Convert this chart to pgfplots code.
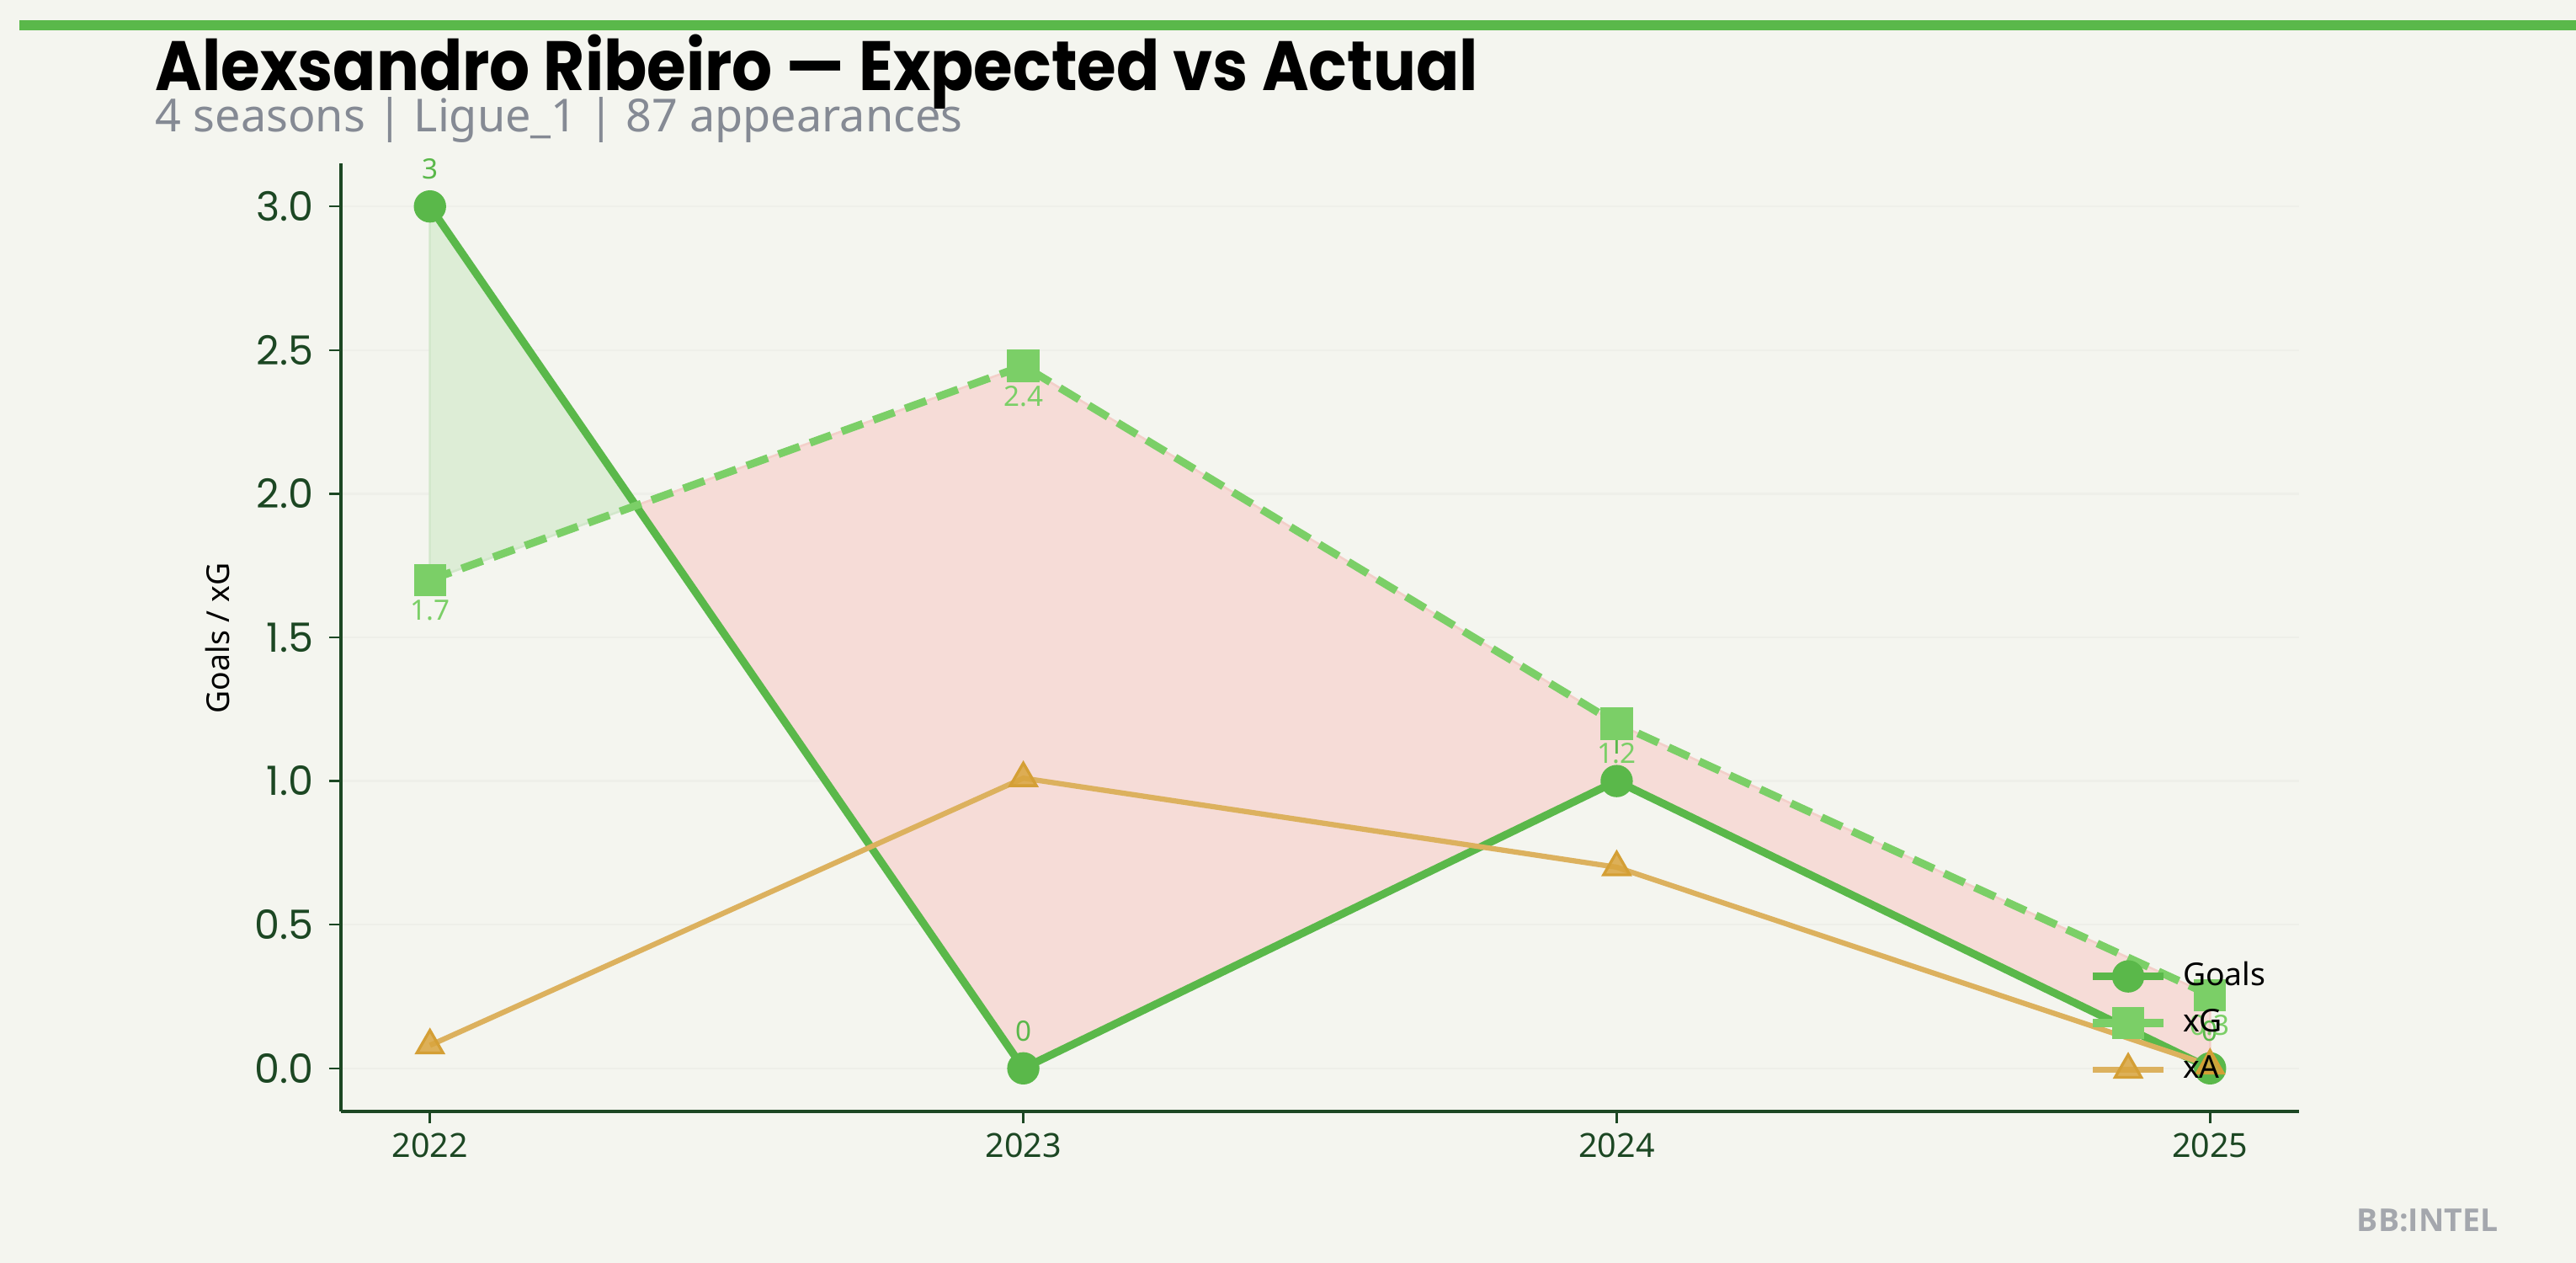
\documentclass[border=0pt]{standalone}
\usepackage{fontspec}
\setmainfont{Noto Sans}
\newfontfamily\titlefont[FakeStretch=0.91]{Poppins}
\newfontfamily\tickfont{Poppins}
\newfontfamily\wmfont{Open Sans}
\usepackage{pgfplots}
\pgfplotsset{compat=1.18}
\definecolor{bg}{HTML}{F4F5EF}
\definecolor{goalsc}{HTML}{5AB84A}
\definecolor{xgc}{HTML}{7BCF67}
\definecolor{xaline}{HTML}{DCB15E}
\definecolor{xamark}{HTML}{D9A53E}
\definecolor{xaedge}{HTML}{D49F35}
\definecolor{fillg}{HTML}{DDEDD6}
\definecolor{fillr}{HTML}{F6DCD7}
\definecolor{fillgedge}{HTML}{D2E7CB}
\definecolor{fillredge}{HTML}{F3CFC9}
\definecolor{spine}{HTML}{1C4723}
\definecolor{gridc}{HTML}{EEEFE9}
\definecolor{subc}{HTML}{858A94}
\definecolor{wmc}{HTML}{A4A7AD}
\pgfplotsset{
  goalsleg/.style={legend image code/.code={
    \draw[##1, line width=2.2bp] (0bp,0bp) -- (20bp,0bp);
    \draw[##1] plot coordinates {(10bp,0bp)};}},
  xgleg/.style={legend image code/.code={
    \draw[##1, solid, line width=2.2bp] (0bp,0bp) -- (20bp,0bp);
    \draw[##1, solid] plot coordinates {(10bp,0bp)};}},
  xaleg/.style={legend image code/.code={
    \draw[##1, line width=1.5bp] (0bp,0bp) -- (20bp,0bp);
    \draw[##1] plot coordinates {(10bp,0bp)};}},
}
\begin{document}
\begin{tikzpicture}
\fill[bg] (0,0) rectangle (734.4bp,360bp);
\fill[goalsc] (5.52bp,351.36bp) rectangle (734.4bp,354.24bp);
\node[anchor=base west, inner sep=0pt, text=black] at (44.16bp,334.3bp)
  {\titlefont\bfseries\fontsize{20}{24}\selectfont Alexsandro Ribeiro — Expected vs Actual};
\node[anchor=base west, inner sep=0pt, text=subc] at (44.16bp,322.32bp)
  {\fontsize{13}{15}\selectfont 4 seasons | Ligue\_1 | 87 appearances};
\node[anchor=base east, inner sep=0pt, text=wmc] at (712.32bp,9.12bp)
  {\wmfont\bfseries\fontsize{9}{11}\selectfont BB:INTEL};
\node[rotate=90, inner sep=0pt, text=black] at (61.92bp,178.08bp)
  {\fontsize{9}{11}\selectfont Goals / xG};
\begin{axis}[
  at={(97.2bp,43.2bp)}, anchor=south west,
  scale only axis, width=558.24bp, height=270.24bp,
  xmin=2021.85, xmax=2025.15, ymin=-0.15, ymax=3.15,
  axis lines*=left,
  axis line style={-, color=spine, line width=0.9bp},
  xtick={2022,2023,2024,2025}, xticklabels={2022,2023,2024,2025},
  ytick={0,0.5,1,1.5,2,2.5,3},
  yticklabel={\pgfmathprintnumber[fixed,fixed zerofill,precision=1]{\tick}},
  /pgf/number format/assume math mode=true,
  tick align=outside, major tick length=3.4bp,
  tick style={color=spine, line width=0.6bp},
  xtick pos=bottom, ytick pos=left,
  yticklabel style={font=\tickfont\fontsize{11.5}{13}\selectfont, text=spine, inner sep=0pt, xshift=-4.3bp},
  xticklabel style={font=\fontsize{9.5}{11}\selectfont, text=spine, inner sep=0pt, yshift=-2.5bp},
  ymajorgrids, grid style={color=gridc, line width=0.6bp},
  clip=false,
  legend style={at={(0.8925,0.0932)}, anchor=west, draw=none, fill=none,
    inner sep=0pt, font=\fontsize{9}{11}\selectfont, text=black,
    nodes={inner sep=0pt, text height=7bp, text depth=2bp},
    row sep=4.3bp, column sep=4.5bp},
  legend cell align=left,
]
% shaded areas between Goals and xG (crossing at x=2022.347, y=1.959)
\addplot[forget plot, fill=fillg, draw=fillgedge, line width=0.6bp]
  coordinates {(2022,3) (2022.347,1.959) (2022,1.70)} -- cycle;
\addplot[forget plot, fill=fillr, draw=fillredge, line width=0.6bp]
  coordinates {(2022.347,1.959) (2023,2.445) (2024,1.20) (2025,0.255) (2025,0) (2024,1) (2023,0)} -- cycle;

\addplot[goalsleg, color=goalsc, line width=2.2bp, mark=*, mark size=3.5bp,
  mark options={fill=goalsc, draw=goalsc},
  nodes near coords, point meta=explicit symbolic,
  every node near coord/.append style={font=\fontsize{8}{9}\selectfont, text=goalsc, anchor=center, yshift=10.6bp}]
  coordinates {(2022,3) [3] (2023,0) [0] (2024,1) [1] (2025,0) [0]};
\addlegendentry{Goals}

\addplot[xgleg, color=xgc, line width=2.2bp, dash pattern=on 6.4bp off 3.2bp, mark=square*, mark size=3.5bp,
  mark options={solid, fill=xgc, draw=xgc},
  nodes near coords, point meta=explicit symbolic,
  every node near coord/.append style={font=\fontsize{8}{9}\selectfont, text=xgc, anchor=center, yshift=-8.6bp}]
  coordinates {(2022,1.70) [1.7] (2023,2.445) [2.4] (2024,1.20) [1.2] (2025,0.255) [0.3]};
\addlegendentry{xG}

\addplot[xaleg, color=xaline, line width=1.5bp, mark=triangle*, mark size=4.3bp,
  mark options={fill=xamark, fill opacity=0.85, draw=xaedge, line width=0.8bp}]
  coordinates {(2022,0.08) (2023,1.01) (2024,0.70) (2025,0.01)};
\addlegendentry{xA}
\end{axis}
\pgfresetboundingbox
\useasboundingbox (0,0) rectangle (734.4bp,360bp);
\end{tikzpicture}
\end{document}
